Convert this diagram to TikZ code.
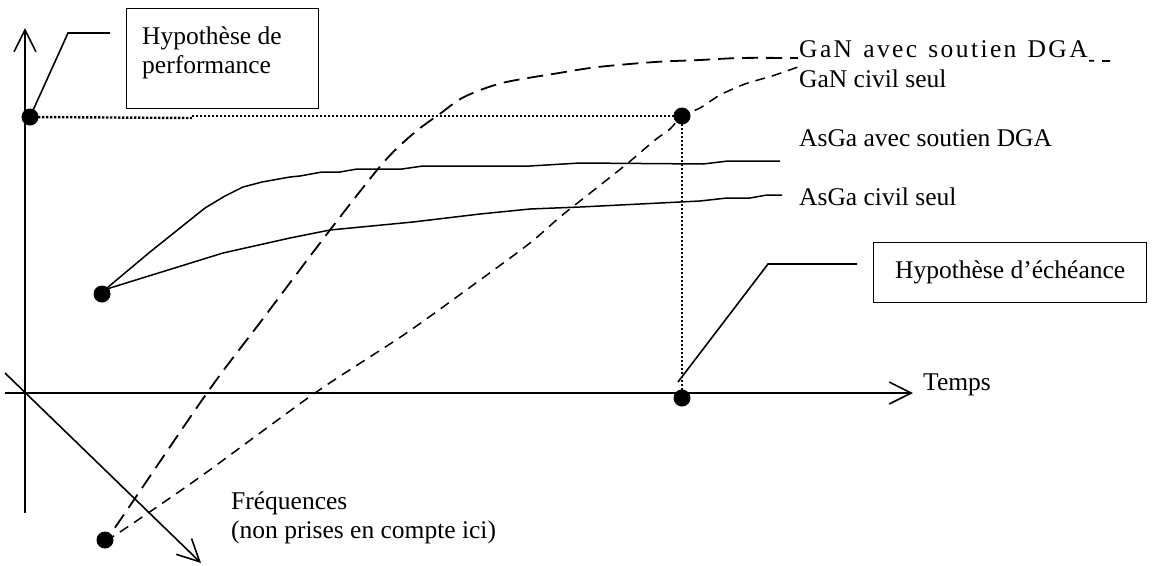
\documentclass[tikz,border=0pt]{standalone}
\usepackage{fontspec}
\setmainfont{Liberation Serif}
\usetikzlibrary{arrows.meta}
\newcommand\lsk{\kern2.4pt}
\begin{document}
\begin{tikzpicture}[x=1pt,y=-1pt,
  axisline/.style={line width=1.6pt, -{Straight Barb[length=22pt,width=22pt]}},
  dot/.style={circle, fill=black, inner sep=0pt, minimum size=17pt},
  lbl/.style={anchor=west, inner sep=1pt, font=\fontsize{25.5}{29}\selectfont},
  boxstyle/.style={draw, line width=1.4pt, inner sep=0pt, font=\fontsize{25.5}{29}\selectfont},
  leader/.style={line width=1.6pt},
  guide/.style={line width=2.4pt, dash pattern=on 2.4pt off 1.6pt},
  asga/.style={line width=1.5pt, line join=round},
  ganlong/.style={line width=1.8pt, dash pattern=on 16pt off 8pt},
  ganshort/.style={line width=1.5pt, dash pattern=on 10pt off 7pt},
]
\useasboundingbox (0,0) rectangle (1159,565);

% dots
\node[dot] (pA) at (30,117) {};
\node[dot] (pB) at (682,116) {};
\node[dot] (pC) at (682,398) {};
\node[dot] (aS) at (102,294) {};
\node[dot] (gS) at (105,540) {};

% axes
\coordinate (yb) at (25,513); \coordinate (yt) at (25,28);
\coordinate (xl) at (5,393);  \coordinate (xr) at (913,393);
\coordinate (fl) at (5,373);  \coordinate (fr) at (201,563);
\draw[axisline] (yb) -- (yt);
\draw[axisline] (xl) -- (xr);
\draw[axisline] (fl) -- (fr);

% dotted guides
\coordinate (g1) at (192,118); \coordinate (g2) at (192,116);
\draw[guide] (pA.center) -- (g1);
\draw[guide] (g2) -- (pB.center);
\draw[guide] (pB.center) -- (pC.center);

% AsGa curves
\draw[asga] (aS.center) -- (107,288) -- (150,252) -- (205,208) -- (225,196) -- (243,187) -- (262,182) -- (290,177) -- (300,176) -- (322,172) -- (340,172) -- (357,169) -- (402,169) -- (423,166) -- (530,166) -- (580,163) -- (703,164) -- (728,161) -- (780,161);
\draw[asga] (aS.center) -- (110,288) -- (223,253) -- (290,238) -- (330,230) -- (413,222) -- (480,214) -- (530,209) -- (580,207) -- (660,203) -- (700,201) -- (727,198) -- (750,198) -- (767,195) -- (782,195);

% GaN curves
\draw[ganlong] plot[smooth, tension=0.5] coordinates {(gS.center) (112,532) (207,393) (262,320) (330,230) (383,163) (414,133) (441,113) (464,97) (502,83) (559,73) (598,67) (655,62) (700,60) (740,58) (790,58) (900,59) (1110,61)};
\draw[ganshort] plot[smooth, tension=0.5] coordinates {(gS.center) (120,532) (200,477) (315,393) (405,334) (480,280) (530,243) (560,217) (594,190) (628,163) (655,140) (670,129) (pB.center) (700,108) (720,95) (745,84) (772,76) (798,67)};

% leaders
\coordinate (l1a) at (68,33); \coordinate (l1b) at (110,33);
\draw[leader, line join=miter] (pA.center) -- (l1a) -- (l1b);
\coordinate (l2s) at (678,382); \coordinate (l2a) at (768,264); \coordinate (l2b) at (857,264);
\draw[leader, line join=miter] (l2s) -- (l2a) -- (l2b);

% boxes
\node[boxstyle, minimum width=192pt, minimum height=100pt, anchor=north west] (perfbox) at (126,8) {};
\node[lbl, align=left] (perftext) at (141,53) {Hypothèse de\\performance};
\node[boxstyle, minimum width=273pt, minimum height=60pt, anchor=north west] (echbox) at (873,242) {Hypothèse d’échéance};

% labels
\node[lbl, fill=white, text depth=6pt] (ganA) at (798,52) {G\lsk a\lsk N\lsk{} \lsk a\lsk v\lsk e\lsk c\lsk{} \lsk s\lsk o\lsk u\lsk t\lsk i\lsk e\lsk n\lsk{} \lsk D\lsk G\lsk A};
\node[lbl] (ganC) at (798,79) {GaN civil seul};
\node[lbl] (asA) at (798,138) {AsGa avec soutien DGA};
\node[lbl] (asC) at (798,197) {AsGa civil seul};
\node[lbl] (temps) at (922,385) {Temps};
\node[lbl, align=left] (freq) at (230,518) {Fréquences\\(non prises en compte ici)};
\end{tikzpicture}
\end{document}
